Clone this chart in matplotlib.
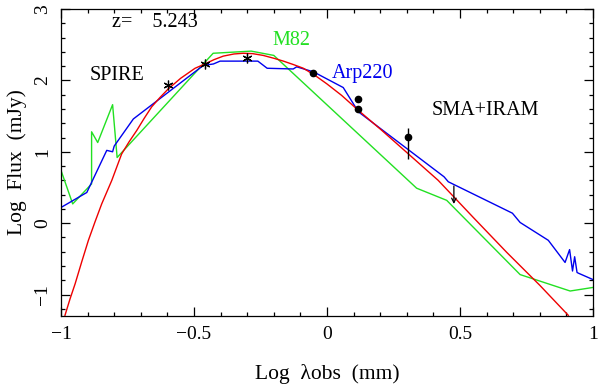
import numpy as np
import matplotlib
matplotlib.use("Agg")
import matplotlib.pyplot as plt

plt.rcParams['font.family'] = ['Liberation Serif', 'DejaVu Serif']

# M82 template (green)
m82_x = [-1.0, -0.956, -0.885, -0.885, -0.862, -0.806, -0.789, -0.428, -0.285, -0.2, 0.337, 0.45, 0.726, 0.914, 1.0]
m82_y = [0.74, 0.27, 0.55, 1.28, 1.13, 1.66, 0.92, 2.38, 2.41, 2.35, 0.49, 0.32, -0.72, -0.95, -0.90]

# Arp220 template (blue)
arp_x = [-1.0, -0.903, -0.828, -0.806, -0.80, -0.728, -0.465, -0.427, -0.402, -0.26, -0.225, -0.127,
         -0.114, -0.051, 0.061, 0.108, 0.118, 0.44, 0.456, 0.697, 0.726, 0.832, 0.895, 0.912,
         0.923, 0.931, 0.940, 0.945, 1.0]
arp_y = [0.22, 0.43, 1.02, 1.0, 1.08, 1.46, 2.21, 2.23, 2.27, 2.27, 2.17, 2.16,
         2.19, 2.12, 1.90, 1.62, 1.56, 0.65, 0.58, 0.14, 0.01, -0.24, -0.55, -0.37,
         -0.67, -0.47, -0.69, -0.70, -0.79]

# fitted model (red)
fit_x = [-0.985, -0.966, -0.947, -0.922, -0.897, -0.872, -0.847, -0.809, -0.772, -0.744, -0.715,
         -0.687, -0.659, -0.628, -0.597, -0.55, -0.496, -0.459, -0.425, -0.39, -0.35, -0.315,
         -0.28, -0.24, -0.2, -0.164, -0.125, -0.089, -0.045, 0.0, 0.055, 0.118, 0.206, 0.306,
         0.418, 0.55, 0.676, 0.80, 0.907]
fit_y = [-1.29, -1.06, -0.85, -0.54, -0.24, 0.02, 0.27, 0.60, 0.97, 1.14, 1.30,
         1.47, 1.63, 1.76, 1.88, 2.03, 2.17, 2.23, 2.29, 2.34, 2.37, 2.38,
         2.375, 2.35, 2.31, 2.27, 2.22, 2.17, 2.07, 1.95, 1.79, 1.58, 1.30, 0.97,
         0.60, 0.08, -0.41, -0.87, -1.29]

# SPIRE photometry
spire_x = [-0.599, -0.459, -0.30]
spire_y = [1.93, 2.23, 2.32]
spire_err = [0.0, 0.04, 0.05]

# SMA + IRAM photometry
mm_x = [-0.054, 0.115, 0.115, 0.303]
mm_y = [2.10, 1.74, 1.60, 1.21]
mm_err_lo = [0.0, 0.03, 0.03, 0.31]
mm_err_hi = [0.0, 0.03, 0.03, 0.12]

# upper limit
lim_x = 0.477
lim_top = 0.56
lim_bot = 0.23

xticks = [-1, -0.5, 0, 0.5, 1]
xticklabels = ['\u22121', '\u22120.5', '0', '0.5', '1']
yticks = [-1, 0, 1, 2, 3]
yticklabels = ['\u22121', '0', '1', '2', '3']

fig = plt.figure(figsize=(6, 3.85), dpi=100)
ax = fig.add_axes([61/600, 1-316/385, 532/600, 307/385])

ax.plot(m82_x, m82_y, color='#22e022', lw=1.0)
ax.plot(arp_x, arp_y, color='#0000ee', lw=1.0)
ax.plot(fit_x, fit_y, color='#ee0000', lw=1.0)

ax.errorbar(spire_x, spire_y, yerr=spire_err, fmt='none', ecolor='black',
            elinewidth=0.8, capsize=0)
ax.plot(spire_x, spire_y, ls='none', marker=(6, 2, 0), color='black', ms=7, mew=0.9)
ax.errorbar(mm_x, mm_y, yerr=[mm_err_lo, mm_err_hi], fmt='o', color='black', ms=4.5,
            elinewidth=1.0, capsize=0)
ax.annotate('', xy=(lim_x, lim_bot), xytext=(lim_x, lim_top),
            arrowprops=dict(arrowstyle='->', color='black', lw=0.9, mutation_scale=8))

ax.text(-0.647, 2.81, 'z=    5.243', fontsize=14.5, ha='center', va='center')
ax.text(-0.79, 2.07, 'SPIRE', fontsize=14.5, ha='center', va='center')
ax.text(-0.135, 2.56, 'M82', fontsize=14.5, ha='center', va='center', color='#22e022')
ax.text(0.135, 2.09, 'Arp220', fontsize=14.5, ha='center', va='center', color='#0000ee')
ax.text(0.594, 1.58, 'SMA+IRAM', fontsize=14.5, ha='center', va='center')

ax.set_xlim(-1, 1)
ax.set_ylim(-1.3, 3)
ax.set_xticks(xticks)
ax.set_xticklabels(xticklabels)
ax.set_yticks(yticks)
ax.set_yticklabels(yticklabels, rotation=90, va='center')
ax.set_xticks(np.arange(-1, 1.001, 0.1), minor=True)
ax.set_yticks(np.arange(-1.2, 3.001, 0.2), minor=True)
ax.tick_params(which='both', direction='in', top=True, right=True, width=0.9, labelsize=14)
ax.tick_params(which='major', length=6.5)
ax.tick_params(which='minor', length=3.2)
ax.tick_params(axis='x', pad=7)
ax.tick_params(axis='y', pad=7)
for s in ax.spines.values():
    s.set_linewidth(0.9)

ax.set_xlabel('Log  \u03bbobs  (mm)', fontsize=15.5, labelpad=15)
ax.set_ylabel('Log  Flux  (mJy)', fontsize=15.5, labelpad=5)

fig.savefig('out.png', dpi=100)
